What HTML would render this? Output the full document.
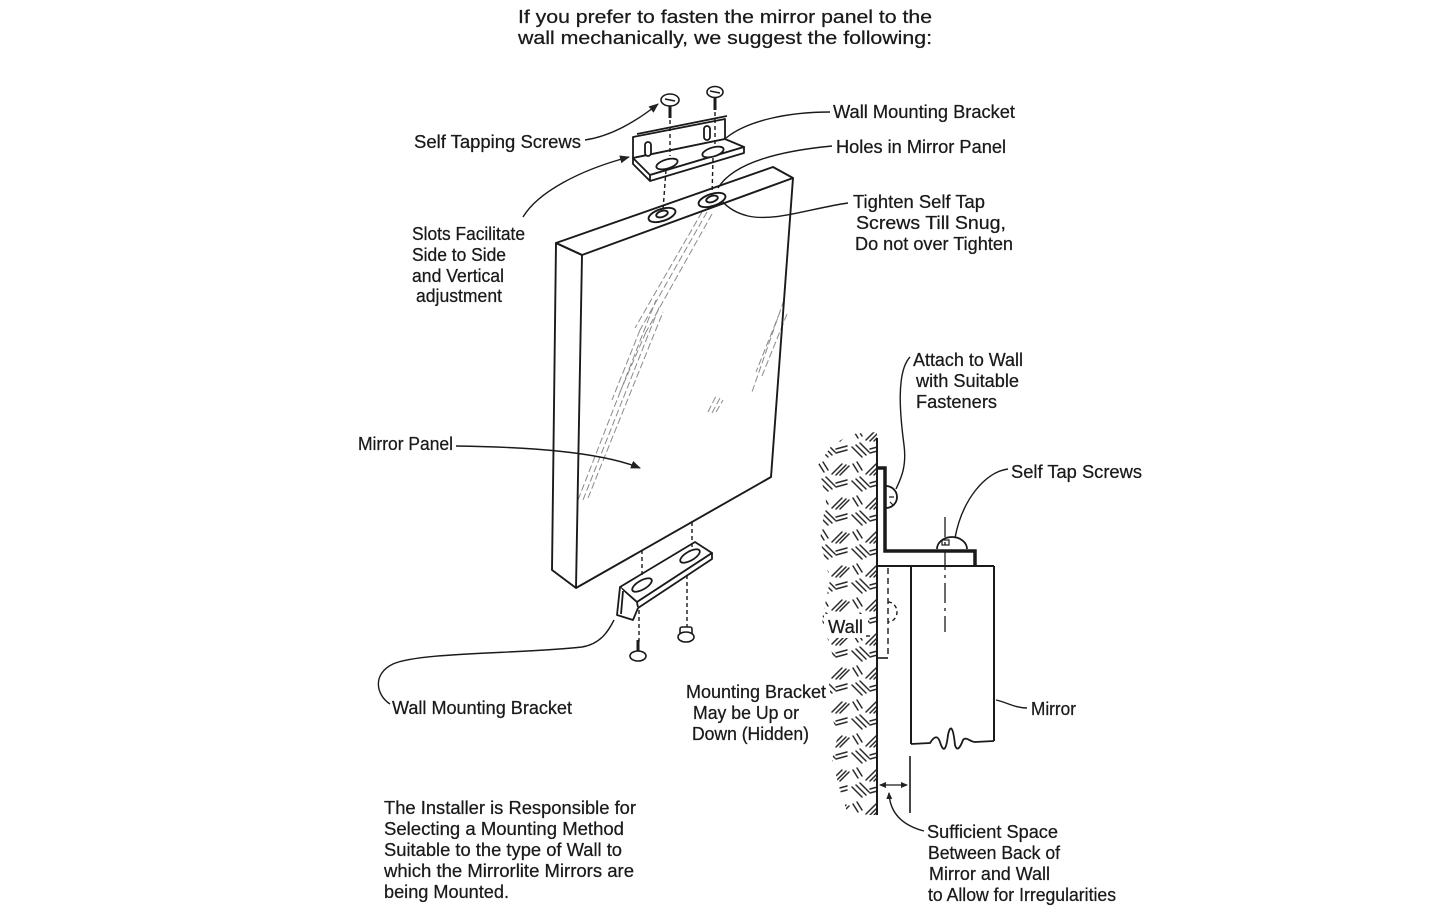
<!DOCTYPE html>
<html><head><meta charset="utf-8"><style>
html,body{margin:0;padding:0;background:#fff;}
svg{display:block}
text{font-family:"Liberation Sans",Arial,sans-serif;fill:#1a1a1a;font-size:18px;stroke:#1a1a1a;stroke-width:0.25}
</style></head><body>
<svg width="1447" height="912" viewBox="0 0 1447 912" xmlns="http://www.w3.org/2000/svg">
<defs>
<marker id="ah" markerWidth="10" markerHeight="8" refX="9" refY="4" orient="auto" markerUnits="userSpaceOnUse"><path d="M0,0 L10,4 L0,8 Z" fill="#222"/></marker>
<marker id="ahs" markerWidth="7" markerHeight="6" refX="6" refY="3" orient="auto" markerUnits="userSpaceOnUse"><path d="M0,0 L7,3 L0,6 Z" fill="#222"/></marker>
<marker id="ahsr" markerWidth="7" markerHeight="6" refX="1" refY="3" orient="auto" markerUnits="userSpaceOnUse"><path d="M7,0 L0,3 L7,6 Z" fill="#222"/></marker>
<pattern id="hatch" width="34" height="34" patternUnits="userSpaceOnUse">
<g stroke="#2a2a2a" stroke-width="1.5" stroke-linecap="round" fill="none">
<path d="M2 5 L12 15 M6 3 L16 13 M10 1 L19 10"/>
<path d="M16 32 L26 22 M20 33 L30 23 M24 33 L33 24"/>
<path d="M20 7 L31 4 M20 11 L31 8"/>
<path d="M3 22 L8 30 M7 20 L12 28"/>
</g>
</pattern>
<clipPath id="wallclip"><polygon points="852,434 877,432 877,815 848,815 840,790 832,760 838,735 826,700 834,660 822,620 830,580 820,540 826,500 818,465 832,445"/></clipPath>
</defs>
<rect width="1447" height="912" fill="#fff"/>

<!-- Title -->
<text x="518" y="23" font-size="19.5" textLength="414" lengthAdjust="spacingAndGlyphs">If you prefer to fasten the mirror panel to the</text>
<text x="518" y="44" font-size="19.5" textLength="414" lengthAdjust="spacingAndGlyphs">wall mechanically, we suggest the following:</text>

<!-- Mirror reflection lines -->
<g stroke="#8a8a8a" stroke-width="1" fill="none" stroke-dasharray="7 3">
<path d="M707 212 L640 330 M702 212 L635 328 M712 214 L646 332"/>
<path d="M640 330 L612 400 M646 332 L620 392"/>
<path d="M578 500 L656 300 M583 500 L660 305 M588 498 L663 312"/>
<path d="M784 300 L752 392 M780 312 L756 372 M787 314 L762 376"/>
<path d="M708 412 L716 396 M712 413 L720 398 M716 412 L723 400"/>
</g>

<!-- Mirror panel -->
<g fill="none" stroke="#1a1a1a" stroke-width="1.9" stroke-linejoin="round">
<polygon points="556,243 773,167 793,178 582,255"/>
<polygon points="556,243 582,255 576,588 552,570"/>
<polyline points="793,178 771,477 576,588"/>
<ellipse cx="662" cy="215" rx="14" ry="6" transform="rotate(-18 662 215)"/>
<ellipse cx="662" cy="214" rx="6" ry="3" transform="rotate(-18 662 214)"/>
<ellipse cx="712" cy="200" rx="14" ry="6" transform="rotate(-18 712 200)"/>
<ellipse cx="712" cy="199" rx="6" ry="3" transform="rotate(-18 712 199)"/>
</g>

<!-- Top bracket -->
<g fill="#fff" stroke="#1a1a1a" stroke-width="1.8" stroke-linejoin="round">
<polygon points="633,137 725,119 725,139 633,158"/>
<polygon points="633,158 725,139 744,147 650,175"/>
<polygon points="650,175 744,147 744,153 650,181"/>
<polyline points="633,158 633,164 650,181" fill="none"/>
<line x1="637" y1="134" x2="727" y2="116"/>
<rect x="645" y="142" width="6" height="14" rx="3"/>
<rect x="704" y="126" width="6" height="14" rx="3"/>
<ellipse cx="667" cy="164" rx="11" ry="4.5" transform="rotate(-17 667 164)"/>
<ellipse cx="713" cy="152" rx="11" ry="4.5" transform="rotate(-17 713 152)"/>
</g>
<g fill="#fff" stroke="#1a1a1a" stroke-width="1.6">
<line x1="670" y1="104" x2="670" y2="118" stroke-width="3"/>
<ellipse cx="670" cy="100" rx="9" ry="6"/>
<path d="M665 99 L675 101" fill="none"/>
<line x1="715" y1="96" x2="715" y2="110" stroke-width="3"/>
<ellipse cx="715" cy="92" rx="8" ry="5.5"/>
<path d="M710 91 L720 93" fill="none"/>
</g>
<g stroke="#1a1a1a" stroke-width="1.4" stroke-dasharray="4 3" fill="none">
<path d="M670 120 L670 156 M666 170 L663 210 M715 112 L715 144 M713 158 L712 196"/>
</g>

<!-- Bottom bracket -->
<g fill="#fff" stroke="#1a1a1a" stroke-width="1.8" stroke-linejoin="round">
<polygon points="620,587 695,542 712,553 637,602"/>
<polygon points="637,602 712,553 712,559 638,608"/>
<polyline points="620,587 617,615 633,620 638,608"/>
<line x1="623" y1="591" x2="621" y2="614"/>
<ellipse cx="642" cy="585" rx="11" ry="4.5" transform="rotate(-30 642 585)"/>
<ellipse cx="690" cy="556" rx="11" ry="4.5" transform="rotate(-30 690 556)"/>
</g>
<g stroke="#1a1a1a" stroke-width="1.4" stroke-dasharray="4 3" fill="none">
<path d="M642 550 L642 578 M639 610 L639 645 M692 522 L692 548 M687 575 L687 627"/>
</g>
<g fill="#fff" stroke="#1a1a1a" stroke-width="1.6">
<line x1="638" y1="640" x2="638" y2="652" stroke-width="3"/>
<ellipse cx="638" cy="656" rx="8" ry="5"/>
<rect x="680" y="627" width="12" height="8" rx="2"/>
<ellipse cx="686" cy="637" rx="8" ry="5"/>
</g>

<!-- Leaders left drawing -->
<g fill="none" stroke="#1a1a1a" stroke-width="1.4">
<path d="M585 140 C612 136, 638 120, 658 104" marker-end="url(#ah)"/>
<path d="M523 217 C538 192, 580 170, 629 157" marker-end="url(#ah)"/>
<path d="M830 112 C790 112, 748 120, 726 138"/>
<path d="M832 146 C790 150, 735 160, 718 188"/>
<path d="M848 203 C812 208, 775 222, 748 216 C736 213, 728 208, 722 201"/>
<path d="M456 446 C530 447, 600 452, 640 468" marker-end="url(#ah)"/>
<path d="M390 704 C376 695, 372 674, 393 664 C420 652, 520 654, 582 647 C600 644, 608 632, 614 620"/>
</g>

<!-- Wall section -->
<rect x="815" y="430" width="64" height="388" fill="url(#hatch)" clip-path="url(#wallclip)"/>
<rect x="824" y="614" width="44" height="24" fill="#fff"/>
<rect x="820" y="686" width="10" height="56" fill="#fff"/>
<g fill="none" stroke="#1a1a1a" stroke-linejoin="miter">
<path d="M877 438 L877 815" stroke-width="2"/>
<path d="M877 468 L885 468 L885 551 L975 551 L975 566" stroke-width="3.5"/>
<path d="M877 566 L994 566" stroke-width="2"/>
<path d="M911 566 L911 744 M994 566 L994 741" stroke-width="2"/>
<path d="M911 744 L930 743 C935 735, 938 736, 940 742 C943 752, 946 752, 948 735 C950 725, 953 725, 955 745 C957 752, 960 748, 963 740 C966 736, 970 742, 975 742 L994 741" stroke-width="1.8"/>
<path d="M886 486 A 11 11 0 0 1 886 508" stroke-width="1.8"/>
<path d="M889 497 L894 497 M890 502 L893 505" stroke-width="1.2"/>
<path d="M937 549 A 15 12 0 0 1 967 549" stroke-width="1.8"/>
<rect x="942" y="540" width="7" height="5" stroke-width="1.2"/>
<path d="M945 517 L945 632" stroke-width="1.3" stroke-dasharray="20 5 3 5"/>
<path d="M877 658 L888 658" stroke-width="1.6"/>
<path d="M888 568 L888 656" stroke-width="1.4" stroke-dasharray="6 4"/>
<path d="M888 602 A 9 10 0 0 1 888 622" stroke-width="1.4" stroke-dasharray="4 3"/>
<path d="M910 756 L910 813" stroke-width="1.6"/>
<path d="M880 785 L907 785" stroke-width="1.3" marker-end="url(#ahs)" marker-start="url(#ahsr)"/>
<path d="M866 636 L870 636" stroke-width="1.4"/>
</g>
<g fill="none" stroke="#1a1a1a" stroke-width="1.4">
<path d="M910 357 C896 372, 900 415, 904 445 C907 468, 900 480, 896 489"/>
<path d="M1008 469 C985 472, 962 500, 955 538"/>
<path d="M1027 708 C1015 708, 1006 702, 996 700"/>
<path d="M924 831 C905 826, 890 815, 889 793" marker-end="url(#ahs)"/>
</g>

<!-- Labels -->
<text x="414" y="148" textLength="167" lengthAdjust="spacingAndGlyphs">Self Tapping Screws</text>
<text x="833" y="118" textLength="182" lengthAdjust="spacingAndGlyphs">Wall Mounting Bracket</text>
<text x="836" y="153" textLength="170" lengthAdjust="spacingAndGlyphs">Holes in Mirror Panel</text>
<text x="853" y="208" textLength="132" lengthAdjust="spacingAndGlyphs">Tighten Self Tap</text>
<text x="856" y="229" textLength="150" lengthAdjust="spacingAndGlyphs">Screws Till Snug,</text>
<text x="855" y="250" textLength="158" lengthAdjust="spacingAndGlyphs">Do not over Tighten</text>
<text x="412" y="240" textLength="113" lengthAdjust="spacingAndGlyphs">Slots Facilitate</text>
<text x="412" y="261" textLength="94" lengthAdjust="spacingAndGlyphs">Side to Side</text>
<text x="412" y="282" textLength="92" lengthAdjust="spacingAndGlyphs">and Vertical</text>
<text x="416" y="302" textLength="86" lengthAdjust="spacingAndGlyphs">adjustment</text>
<text x="358" y="450" textLength="95" lengthAdjust="spacingAndGlyphs">Mirror Panel</text>
<text x="913" y="366" textLength="110" lengthAdjust="spacingAndGlyphs">Attach to Wall</text>
<text x="916" y="387" textLength="103" lengthAdjust="spacingAndGlyphs">with Suitable</text>
<text x="916" y="408" textLength="81" lengthAdjust="spacingAndGlyphs">Fasteners</text>
<text x="1011" y="478" textLength="131" lengthAdjust="spacingAndGlyphs">Self Tap Screws</text>
<text x="828" y="633" textLength="35" lengthAdjust="spacingAndGlyphs">Wall</text>
<text x="686" y="698" textLength="140" lengthAdjust="spacingAndGlyphs">Mounting Bracket</text>
<text x="693" y="719" textLength="106" lengthAdjust="spacingAndGlyphs">May be Up or</text>
<text x="692" y="740" textLength="117" lengthAdjust="spacingAndGlyphs">Down (Hidden)</text>
<text x="1031" y="715" textLength="45" lengthAdjust="spacingAndGlyphs">Mirror</text>
<text x="392" y="714" textLength="180" lengthAdjust="spacingAndGlyphs">Wall Mounting Bracket</text>
<text x="384" y="814" textLength="252" lengthAdjust="spacingAndGlyphs">The Installer is Responsible for</text>
<text x="384" y="835" textLength="240" lengthAdjust="spacingAndGlyphs">Selecting a Mounting Method</text>
<text x="384" y="856" textLength="238" lengthAdjust="spacingAndGlyphs">Suitable to the type of Wall to</text>
<text x="384" y="877" textLength="250" lengthAdjust="spacingAndGlyphs">which the Mirrorlite Mirrors are</text>
<text x="384" y="898" textLength="125" lengthAdjust="spacingAndGlyphs">being Mounted.</text>
<text x="927" y="838" textLength="131" lengthAdjust="spacingAndGlyphs">Sufficient Space</text>
<text x="928" y="859" textLength="132" lengthAdjust="spacingAndGlyphs">Between Back of</text>
<text x="929" y="880" textLength="121" lengthAdjust="spacingAndGlyphs">Mirror and Wall</text>
<text x="928" y="901" textLength="188" lengthAdjust="spacingAndGlyphs">to Allow for Irregularities</text>
</svg>
</body></html>
